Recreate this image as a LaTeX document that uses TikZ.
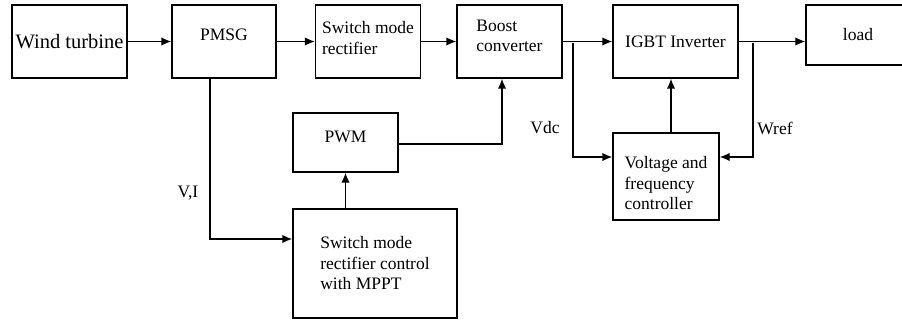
\documentclass[tikz,border=0pt]{standalone}
\usepackage{fontspec}
\setmainfont{Liberation Serif}
\usepackage{tikz}
\usetikzlibrary{arrows.meta,positioning,calc}

\begin{document}
\begin{tikzpicture}[x=1pt, y=-1pt, >={Latex[length=10pt,width=8.5pt]},
  font=\rmfamily\fontsize{17.5}{20.5}\selectfont,
  blk/.style={draw=black, line width=1.4pt, fill=white, inner sep=2pt, align=left},
  link/.style={black, line width=1.4pt},
  lbl/.style={font=\rmfamily\fontsize{17.5}{20.5}\selectfont}]
  \useasboundingbox (0,0) rectangle (902,323);
  % ---- forward path ----
  \node[blk, minimum width=115pt, minimum height=73pt, font=\rmfamily\fontsize{20.5}{23}\selectfont] (wt) at (69.5,41.5) {Wind turbine};
  \node[blk, minimum width=104pt, minimum height=73pt, text depth=13pt] (pmsg) at (224,41.5) {PMSG};
  \node[blk, minimum width=105pt, minimum height=73pt, text depth=7pt] (smr) at (368,41.5) {Switch mode\\rectifier};
  \node[blk, minimum width=105pt, minimum height=73pt, text depth=11pt] (boost) at (509.5,41.5) {Boost\\converter};
  \node[blk, minimum width=125pt, minimum height=73pt] (igbt) at (675.5,41.5) {IGBT Inverter};
  \node[blk, minimum width=104pt, minimum height=60pt] (load) at (858,35) {load};
  % ---- control ----
  \node[blk, minimum width=105pt, minimum height=59pt, text depth=11pt] (pwm) at (345.5,142.5) {PWM};
  \node[blk, minimum width=164pt, minimum height=109pt] (smrc) at (375,263.5) {Switch mode\\rectifier control\\with MPPT};
  \node[blk, minimum width=106pt, minimum height=87pt, text height=67pt] (vfc) at (666,176.5) {Voltage and\\frequency\\controller};
  \coordinate (tapdc) at (573,43);
  \coordinate (tapw) at (753,43);
  \foreach \a/\b in {wt/pmsg, pmsg/smr, smr/boost, boost/igbt} { \draw[link,->] (\a.east) -- (\b.west); }
  \draw[link,->] (igbt.east) -- (igbt.east -| load.west);
  \draw[link,->] ([xshift=-14pt]pmsg.south) |- ([yshift=24.5pt]smrc.west);
  \draw[link,->] (pwm.south |- smrc.north) -- (pwm.south);
  \draw[link,->] ([yshift=-1.5pt]pwm.east) -| ([xshift=-7.5pt]boost.south);
  \draw[link,->] (tapdc) |- ([yshift=19.5pt]vfc.west);
  \draw[link,->] (tapw) |- ([yshift=19.5pt]vfc.east);
  \draw[link,->] ([xshift=5pt]vfc.north) -- ([xshift=5pt]vfc.north |- igbt.south);
  % ---- signal labels ----
  \node[lbl] (vi) at (188,193) {V,I};
  \node[lbl] (vdc) at (545,128) {Vdc};
  \node[lbl] (wref) at (775,128) {Wref};
\end{tikzpicture}
\end{document}
